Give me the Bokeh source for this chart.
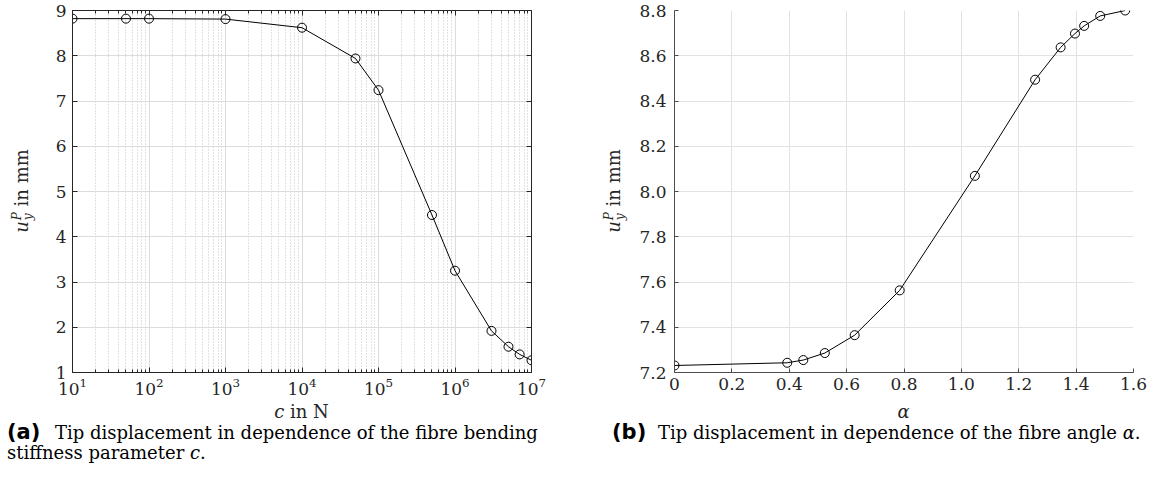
from bokeh.plotting import figure
from bokeh.models import (Range1d, LogAxis, LinearAxis, FixedTicker,
                          CustomJSTickFormatter, Div)
from bokeh.layouts import row, column
from bokeh.embed import file_html
from bokeh.resources import INLINE

# ---------------- data ----------------
c_values = [1e1, 5e1, 1e2, 1e3, 1e4, 5e4, 1e5, 5e5, 1e6, 3e6, 5e6, 7e6, 1e7]
uy_c = [8.82, 8.82, 8.82, 8.81, 8.62, 7.94, 7.24, 4.48, 3.25, 1.92, 1.57, 1.40, 1.27]
c_ticks = [1e1, 1e2, 1e3, 1e4, 1e5, 1e6, 1e7]
c_minor_ticks = [m * 10 ** e for e in range(1, 7) for m in range(2, 10)]
uy_c_ticks = [1, 2, 3, 4, 5, 6, 7, 8, 9]

alpha_values = [0.0, 0.393, 0.449, 0.524, 0.628, 0.785, 1.047, 1.257, 1.346,
                1.396, 1.428, 1.484, 1.571]
uy_alpha = [7.231, 7.243, 7.255, 7.286, 7.365, 7.563, 8.069, 8.494, 8.637,
            8.698, 8.732, 8.776, 8.800]
alpha_ticks = [0.0, 0.2, 0.4, 0.6, 0.8, 1.0, 1.2, 1.4, 1.6]
uy_alpha_ticks = [7.2, 7.4, 7.6, 7.8, 8.0, 8.2, 8.4, 8.6, 8.8]

caption_a_1 = "Tip displacement in dependence of the fibre bending"
caption_a_2 = "stiffness parameter"
caption_b = "Tip displacement in dependence of the fibre angle"

SERIF = "DejaVu Serif"
TXT = "#262626"
TICK_FS = "17px"

# geometry (page pixels)
YL1_W, P1_W, YL2_W, P2_W = 40, 560, 32, 525
F_H, PAGE_H = 398, 493
F1_L, F1_R, F1_T, F_B = 72, 531, 9, 372
F2_L, F2_R, F2_T = 674, 1133, 10
X1 = YL1_W                      # page x where p1 starts
X2 = YL1_W + P1_W + YL2_W       # page x where p2 starts

# ---------------- figure (a) ----------------
p1 = figure(width=P1_W, height=F_H, x_axis_type="log",
            x_range=Range1d(1e1, 1e7), y_range=Range1d(1, 9),
            output_backend="svg", toolbar_location=None,
            min_border_left=F1_L - X1, min_border_right=X1 + P1_W - F1_R,
            min_border_top=F1_T, min_border_bottom=F_H - F_B)
p1.outline_line_color = "#262626"
p1.outline_line_width = 1
p1.background_fill_color = "white"
p1.border_fill_color = "white"

xt = FixedTicker(ticks=c_ticks, minor_ticks=c_minor_ticks)
yt = FixedTicker(ticks=uy_c_ticks, minor_ticks=[])
p1.xaxis.ticker = xt
p1.yaxis.ticker = yt
p1.xgrid.ticker = xt
p1.ygrid.ticker = yt

for ax in (p1.xaxis[0], p1.yaxis[0]):
    ax.axis_line_color = "#262626"
    ax.major_tick_line_color = "#262626"
    ax.minor_tick_line_color = "#262626"
    ax.major_tick_in = 5
    ax.major_tick_out = 0
    ax.minor_tick_in = 3
    ax.minor_tick_out = 0
    ax.major_label_text_font = SERIF
    ax.major_label_text_font_size = TICK_FS
    ax.major_label_text_color = TXT

p1.xaxis.major_label_standoff = 5
p1.yaxis.major_label_standoff = 6

blank = CustomJSTickFormatter(code="return '';")
top_ax = LogAxis(ticker=xt, formatter=blank, major_label_text_font_size="1px",
                 major_tick_in=5, major_tick_out=0, minor_tick_in=3, minor_tick_out=0,
                 major_label_standoff=0, axis_label_standoff=0,
                 axis_line_color="#262626", major_tick_line_color="#262626",
                 minor_tick_line_color="#262626")
right_ax = LinearAxis(ticker=yt, formatter=blank, major_label_text_font_size="1px",
                      major_tick_in=5, major_tick_out=0, minor_tick_in=0, minor_tick_out=0,
                      major_label_standoff=0, axis_label_standoff=0,
                      axis_line_color="#262626", major_tick_line_color="#262626")
p1.add_layout(top_ax, "above")
p1.add_layout(right_ax, "right")

p1.xgrid.grid_line_color = "#dcdcdc"
p1.ygrid.grid_line_color = "#dcdcdc"
p1.xgrid.minor_grid_line_color = "#c4c4c4"
p1.xgrid.minor_grid_line_dash = "1 2"

p1.line(c_values, uy_c, line_color="black", line_width=1)
p1.scatter(c_values, uy_c, marker="circle", size=9, fill_color=None,
           line_color="black", line_width=1)

# ---------------- figure (b) ----------------
p2 = figure(width=P2_W, height=F_H,
            x_range=Range1d(0, 1.6), y_range=Range1d(7.2, 8.8),
            output_backend="svg", toolbar_location=None,
            min_border_left=F2_L - X2, min_border_right=X2 + P2_W - F2_R,
            min_border_top=F2_T, min_border_bottom=F_H - F_B)
p2.outline_line_color = None
p2.background_fill_color = "white"
p2.border_fill_color = "white"

xt2 = FixedTicker(ticks=alpha_ticks, minor_ticks=[])
yt2 = FixedTicker(ticks=uy_alpha_ticks, minor_ticks=[])
p2.xaxis.ticker = xt2
p2.yaxis.ticker = yt2
p2.xgrid.ticker = xt2
p2.ygrid.ticker = yt2
p2.xaxis.formatter = CustomJSTickFormatter(code="return tick == 0 ? '0' : tick.toFixed(1);")
p2.yaxis.formatter = CustomJSTickFormatter(code="return tick.toFixed(1);")

for ax in (p2.xaxis[0], p2.yaxis[0]):
    ax.axis_line_color = "#4d4d4d"
    ax.major_tick_line_color = "#4d4d4d"
    ax.major_tick_in = 4
    ax.major_tick_out = 0
    ax.minor_tick_line_color = None
    ax.major_label_text_font = SERIF
    ax.major_label_text_font_size = TICK_FS
    ax.major_label_text_color = TXT

p2.xaxis.major_label_standoff = 5
p2.yaxis.major_label_standoff = 8

p2.xgrid.grid_line_color = "#e2e2e2"
p2.ygrid.grid_line_color = "#e2e2e2"

p2.line(alpha_values, uy_alpha, line_color="black", line_width=1)
p2.scatter(alpha_values, uy_alpha, marker="circle", size=9, fill_color=None,
           line_color="black", line_width=1)

# ---------------- y-axis labels (rotated HTML) ----------------
ylab_html = ("<i>u</i><span style=\"display:inline-block;vertical-align:-4px;"
             "font-size:12px;line-height:11px;margin-left:1px;\"><i>P</i><br><i>y</i></span>"
             "&nbsp;in mm")


def ylabel_div(width, cx, cy):
    return Div(width=width, height=F_H, margin=0,
               text=(f"<div style=\"position:relative;width:{width}px;height:{F_H}px;\">"
                     f"<div style=\"position:absolute;left:{cx}px;top:{cy}px;"
                     f"transform:translate(-50%,-50%) rotate(-90deg);white-space:nowrap;"
                     f"font-family:'DejaVu Serif';font-size:18px;line-height:22px;color:{TXT};\">"
                     f"{ylab_html}</div></div>"))


yl1 = ylabel_div(YL1_W, 22, (F1_T + F_B) / 2)
yl2 = ylabel_div(YL2_W, 614 - (X1 + P1_W), (F2_T + F_B) / 2)

# ---------------- x-axis labels + captions ----------------
base = ("font-family:'DejaVu Serif';font-size:18px;color:black;white-space:nowrap;margin:0;")
tag = ("font-family:'DejaVu Sans';font-weight:bold;font-size:21px;display:inline-block;")


def bottom_div(width, frame_left, frame_w, xlabel, cap_left, tag_w, tag_txt, cap_html):
    return Div(width=width, height=PAGE_H - F_H, margin=0,
               styles={"overflow": "hidden"},
               text=(f"<div style=\"{base}\">"
                     f"<div style=\"margin-left:{frame_left}px;width:{frame_w}px;"
                     f"text-align:center;line-height:20px;padding-top:4px;color:{TXT};\">{xlabel}</div>"
                     f"<div style=\"padding-left:{cap_left}px;line-height:20px;\">"
                     f"<span style=\"{tag}width:{tag_w}px;\">{tag_txt}</span>{cap_html}</div>"
                     f"</div>"))


div_a = bottom_div(X1 + P1_W, F1_L, F1_R - F1_L, "<i>c</i> in N", 7, 48, "(a)",
                   f"{caption_a_1}<br>{caption_a_2} <i>c</i>.")
div_b = bottom_div(YL2_W + P2_W, F2_L - (X1 + P1_W), F2_R - F2_L, "<i>\u03b1</i>", 12, 46, "(b)",
                   f"{caption_b} <i>\u03b1</i>.")

layout = column(row(yl1, p1, yl2, p2), row(div_a, div_b))
open("out.html", "w").write(file_html(layout, INLINE))
